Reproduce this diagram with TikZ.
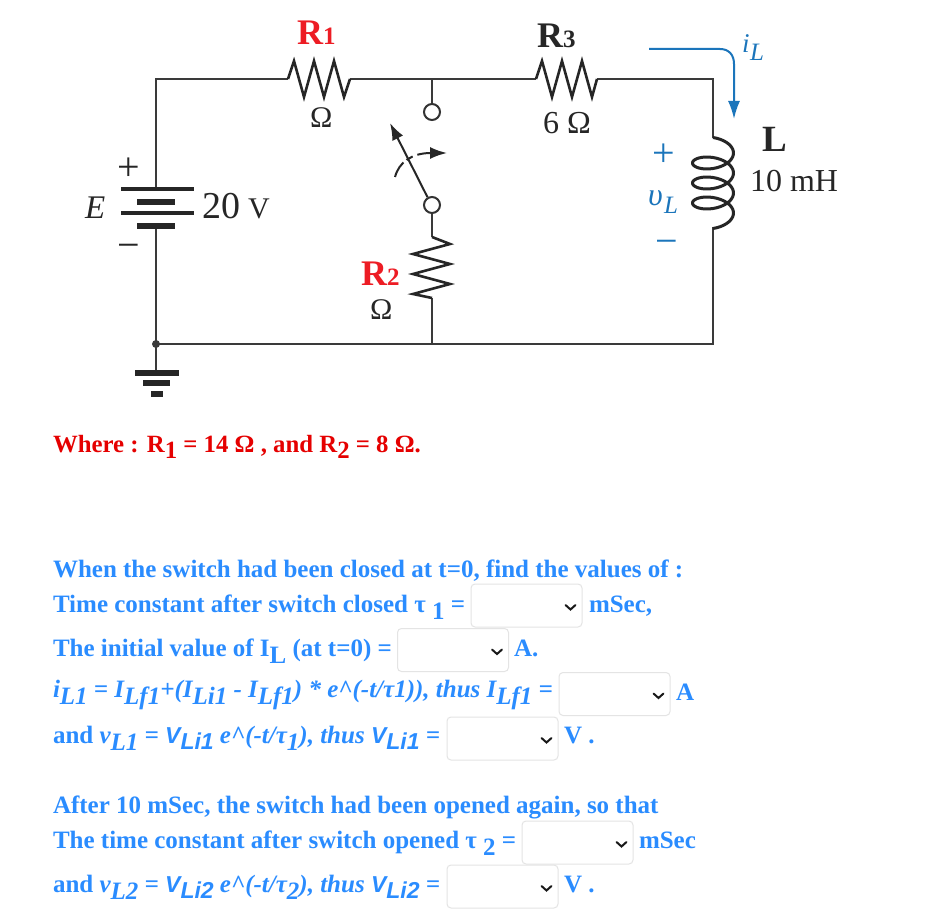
\documentclass[tikz,border=0pt]{standalone}
\usepackage{fontspec}
\setmainfont{Liberation Serif}
\setsansfont{Liberation Sans}
\usetikzlibrary{arrows.meta}
\definecolor{qblue}{HTML}{2A8CFF}
\definecolor{cblue}{HTML}{1B75BB}
\definecolor{rred}{HTML}{ED1C24}
\definecolor{wire}{HTML}{3A3A3A}
\definecolor{selgray}{HTML}{E4E4E4}
\newcommand{\fs}[1]{\fontsize{#1}{#1}\selectfont}
\newcommand{\lo}[1]{\raisebox{-0.28em}{#1}}
\newcommand{\vsans}[1]{{\sffamily\bfseries\itshape\fs{23}#1}}
\tikzset{
  x=1pt,y=-1pt,
  wirepath/.style={draw=wire,line width=2pt,line join=miter},
  zig/.style={draw=black!85,line width=2.6pt,line join=miter},
  plate/.style={draw=black!85,line width=4pt},
  thick plate/.style={draw=black!85,line width=6pt},
  gndbar/.style={draw=black!85,line width=5.5pt},
  terminal/.style={circle,draw=black!80,line width=2pt,fill=white,minimum size=16pt,inner sep=0pt},
  txt/.style={anchor=base west,inner sep=0pt,outer sep=0pt,text=black!85},
  sign/.style={anchor=base,inner sep=0pt,outer sep=0pt,font=\fs{40}},
  qtxt/.style={txt,text=qblue,font=\fs{25}\bfseries},
  qital/.style={txt,text=qblue,font=\fs{25}\bfseries\itshape},
  rlabel/.style={txt,font=\fs{36}\bfseries},
  selbox/.style={draw=selgray,line width=1pt,rounded corners=4pt,fill=white,minimum width=111pt,minimum height=43pt,inner sep=0pt},
  chev/.style={draw=black!90,line width=2pt,line cap=round},
  cur/.style={draw=cblue,line width=2pt}
}
\begin{document}
\begin{tikzpicture}
\useasboundingbox[fill=white] (0,0) rectangle (936,912);
% named junctions
\coordinate (tl) at (156,79);
\coordinate (bl) at (156,344);
\coordinate (tr) at (713,79);
\coordinate (br) at (713,344);
\coordinate (r1a) at (288,79);
\coordinate (r1b) at (350,79);
\coordinate (r3a) at (536,79);
\coordinate (r3b) at (597,79);
\coordinate (swt) at (432,79);
\coordinate (swb) at (432,344);
\coordinate (r2a) at (432,237);
\coordinate (r2b) at (432,298);
\coordinate (lta) at (713,138);
\coordinate (ltb) at (713,227);
\coordinate (batt) at (156,189);
\coordinate (batb) at (156,226);
\coordinate (gnd) at (156,373);
% wires
\draw[wirepath] (batt) -- (tl) -- (r1a);
\draw[wirepath] (r1b) -- (r3a);
\draw[wirepath] (r3b) -- (tr) -- (lta);
\draw[wirepath] (ltb) -- (br) -- (bl);
\draw[wirepath] (batb) -- (bl) -- (gnd);
\node[terminal] (st) at (432,112) {};
\node[terminal] (sb) at (432,205) {};
\draw[wirepath] (swt) -- (st);
\draw[wirepath] (sb) -- (r2a);
\draw[wirepath] (r2b) -- (swb);
\fill[wire] (bl) circle (4);
% resistors
\draw[zig] (r1a) -- ++(6,-18) -- ++(10,36) -- ++(10,-36) -- ++(10,36) -- ++(10,-36) -- ++(10,36) -- (r1b);
\draw[zig] (r3a) -- ++(6,-18) -- ++(10,36) -- ++(10,-36) -- ++(10,36) -- ++(10,-36) -- ++(10,36) -- (r3b);
\draw[zig] (r2a) -- ++(18,7) -- ++(-37,10) -- ++(37,10) -- ++(-37,10) -- ++(37,10) -- ++(-37,10) -- (r2b);
% inductor
\draw[draw=black!85,line width=3pt] plot[smooth,domain=-90:1170,samples=120,variable=\t] ({713+20.5*cos(\t)},{153+\t/18+10.5*sin(\t)});
% battery
\draw[plate] (121,189) -- (194,189);
\draw[thick plate] (137,201.5) -- (175,201.5);
\draw[plate] (121,213) -- (194,213);
\draw[thick plate] (137,226) -- (175,226);
% ground
\draw[gndbar] (135,373) -- (179,373);
\draw[gndbar] (143,383) -- (170,383);
\draw[gndbar] (151,394) -- (163,394);
% switch
\draw[draw=black!85,line width=2pt,-{Latex[length=17pt,width=12pt]}] (sb.120) -- (390,123);
\draw[draw=black!85,line width=2pt,dash pattern=on 17pt off 4pt on 7pt off 5pt,-{Latex[length=17pt,width=12pt]}] (395,177) .. controls (399,162) and (412,153) .. (447,153);
% current arrow
\coordinate (ia) at (649,49);
\coordinate (ib) at (734,119);
\draw[cur,-{Latex[length=18pt,width=12pt]}] (ia) -- (720,49) .. controls (729,49) and (734,55) .. (734,64) -- (ib);
% circuit labels
\node[rlabel,text=rred] (lr1) at (297,45) {R\fs{25}1};
\node[rlabel] (lr3) at (537,48) {R\fs{25}3};
\node[rlabel,text=rred] (lr2) at (361,285) {R\fs{25}2};
\node[txt,font=\fs{30}] (o1) at (310,128) {Ω};
\node[txt,font=\fs{30}] (o2) at (370,319) {Ω};
\node[txt,font=\fs{32}] (o3) at (543,134) {6 Ω};
\node[txt,font=\fs{37}\bfseries] (ll) at (762,152) {L};
\node[txt,font=\fs{32}] (lv) at (750,192) {10 mH};
\node[txt,font=\fs{33}\itshape] (le) at (85,218) {E};
\node[txt,font=\fs{38}] (l20) at (202,218) {20};
\node[txt,font=\fs{30}] (lvv) at (248,218) {V};
\node[sign,text=black!85] (lp) at (129,180) {+};
\node[sign,text=black!85] (lm) at (129,258) {−};
\node[sign,text=cblue] (vp) at (664,167) {+};
\node[sign,text=cblue] (vm) at (667,254) {−};
\node[txt,font=\fs{32}\itshape,text=cblue] (vl) at (648,205) {υ};
\node[txt,font=\fs{25}\itshape,text=cblue] (vls) at (664,213) {L};
\node[txt,font=\fs{27}\itshape,text=cblue] (il) at (742,53) {i};
\node[txt,font=\fs{25}\itshape,text=cblue] (ils) at (750,61) {L};
% where line
\node[txt,text=red!90!black,font=\fs{24.8}\bfseries] (w) at (53,452) {Where : R\lo{1} = 14 Ω , and R\lo{2} = 8 Ω.};
% question text
\node[qtxt] (q1) at (53,577) {When the switch had been closed at t=0, find the values of :};
\node[qtxt] (q2) at (53,612) {Time constant after switch closed τ \lo{1} =};
\node[qtxt] (q3) at (53,656) {The initial value of I\lo{L} (at t=0) =};
\node[qital] (q4) at (53,697) {i\lo{L1} = I\lo{Lf1}+(I\lo{Li1} - I\lo{Lf1}) * e\^{}(-t/τ1)), thus I\lo{Lf1} =};
\node[qital] (q5) at (53,743) {\textup{and} v\lo{L1} = \vsans{V\lo{Li1}} e\^{}(-t/τ\lo{1}), thus \vsans{V\lo{Li1}} =};
\node[qtxt] (q6) at (53,813) {After 10 mSec, the switch had been opened again, so that};
\node[qtxt] (q7) at (53,848) {The time constant after switch opened τ \lo{2} =};
\node[qital] (q8) at (53,892) {\textup{and} v\lo{L2} = \vsans{V\lo{Li2}} e\^{}(-t/τ\lo{2}), thus \vsans{V\lo{Li2}} =};
% selects
\node[selbox] (s1) at (526.5,605.5) {};
\node[selbox] (s2) at (453,650) {};
\node[selbox] (s3) at (614.5,694) {};
\node[selbox] (s4) at (502.5,738.5) {};
\node[selbox] (s5) at (577.5,842.5) {};
\node[selbox] (s6) at (502.5,886.5) {};
\foreach \s in {s1,s2,s3,s4,s5,s6}{
  \draw[chev] ([shift={(-17,-0.5)}]\s.east) -- ([shift={(-12,4)}]\s.east) -- ([shift={(-7,-0.5)}]\s.east);
}
\node[qtxt] (u1) at (589,612) {mSec,};
\node[qtxt] (u2) at (514,656) {A.};
\node[qtxt] (u3) at (676,700) {A};
\node[qtxt] (u4) at (564,743) {V .};
\node[qtxt] (u5) at (639,848) {mSec};
\node[qtxt] (u6) at (564,892) {V .};
\end{tikzpicture}
\end{document}
